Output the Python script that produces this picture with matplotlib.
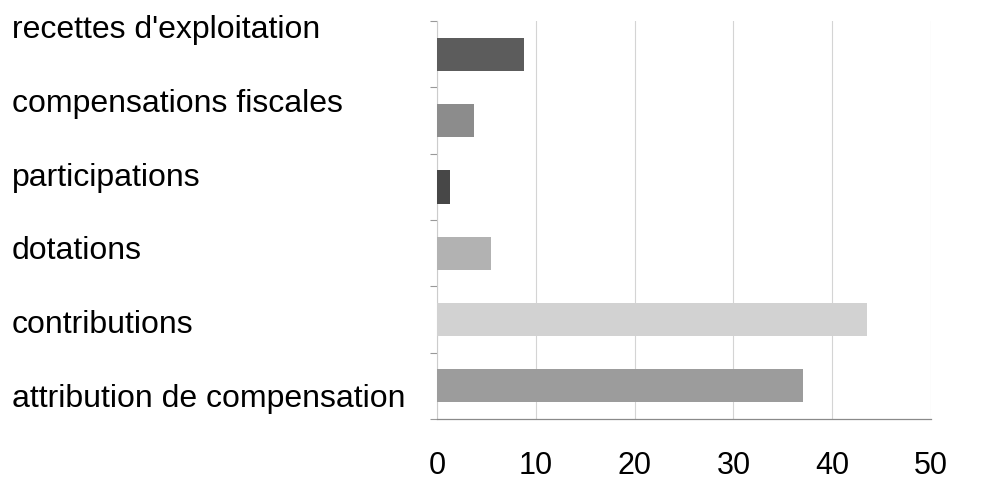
import matplotlib.pyplot as plt
import numpy as np

plt.rcParams['font.family'] = ['Liberation Sans', 'DejaVu Sans']

# categories from top to bottom
categories = ["recettes d'exploitation", "compensations fiscales", "participations",
              "dotations", "contributions", "attribution de compensation"]
values = [8.8, 3.7, 1.3, 5.5, 43.5, 37.0]
bar_colors = ["#5c5c5c", "#8c8c8c", "#474747", "#b2b2b2", "#d2d2d2", "#9c9c9c"]
xticks = [0, 10, 20, 30, 40, 50]

fig = plt.figure(figsize=(9.91, 4.8), dpi=100)
ax = fig.add_axes([0.441, 0.127, 0.4985, 0.829])

# bars drawn bottom-up so the first category sits on top
y = np.arange(len(categories))[::-1]
ax.barh(y, values, height=0.5, color=bar_colors, zorder=3)

ax.set_xlim(0, 50)
ax.set_ylim(-0.5, len(categories) - 0.5)
ax.set_xticks(xticks)
ax.set_xticklabels([str(t) for t in xticks], fontsize=22)
ax.tick_params(axis='x', length=0, pad=23)

# small ticks between the categories on the left axis
ax.set_yticks(np.arange(len(categories) + 1) - 0.5)
ax.set_yticklabels([])
ax.tick_params(axis='y', length=5, color='#999999', width=0.8)

ax.grid(axis='x', color='#d4d4d4', linewidth=0.8, zorder=0)
for side in ['top', 'right']:
    ax.spines[side].set_visible(False)
ax.spines['bottom'].set_color('#8a8a8a')
ax.spines['left'].set_color('#cccccc')
ax.spines['bottom'].set_linewidth(0.9)
ax.spines['left'].set_linewidth(0.8)

# category names laid out in their own column on the left
label_y = 1 - np.linspace(30, 399, len(categories)) / 480
for name, ly in zip(categories, label_y):
    fig.text(12 / 991, ly, name, fontsize=23, ha='left', va='center')

plt.savefig('out.png', dpi=100)
